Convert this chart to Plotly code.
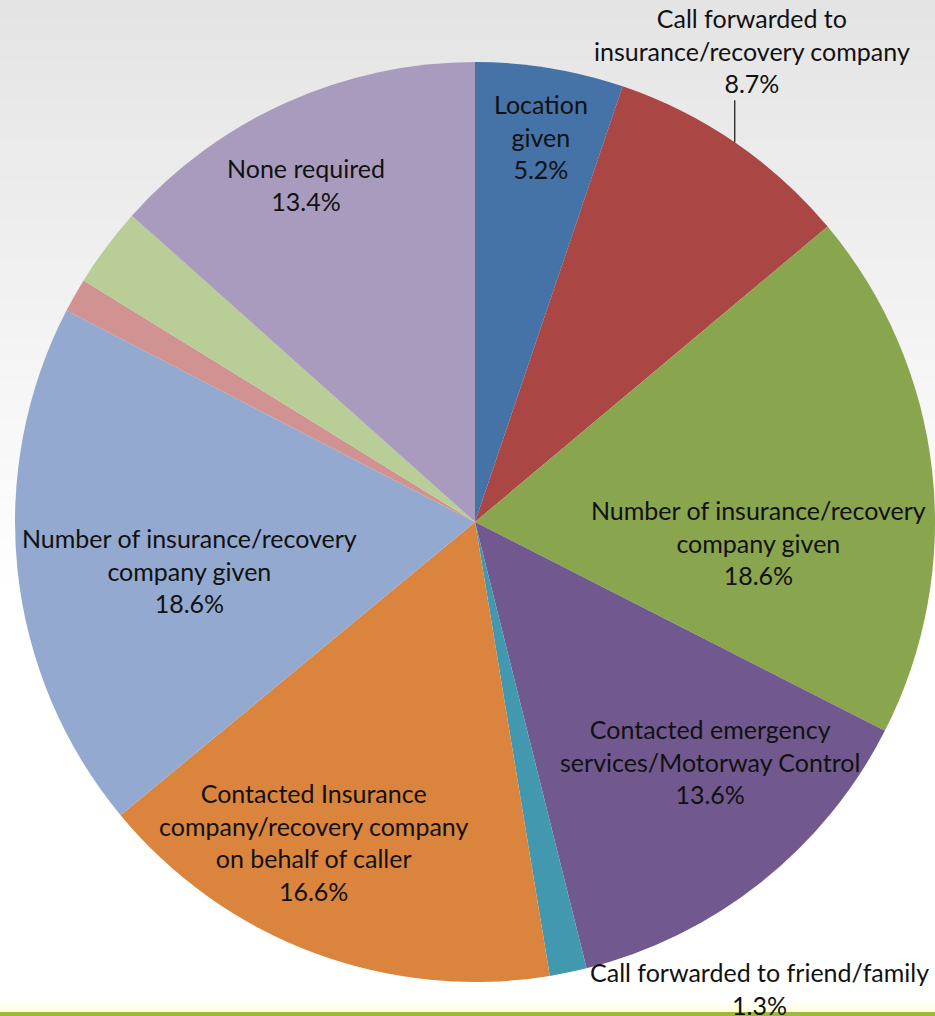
import math
import plotly.graph_objects as go

# ---------------- data ----------------
slice_keys = ["s0", "s1", "s2", "s3", "s4", "s5", "s6", "s7", "s8", "s9"]
categories = [
    "Location given",
    "Call forwarded to insurance/recovery company",
    "Number of insurance/recovery company given",
    "Contacted emergency services/Motorway Control",
    "Call forwarded to friend/family",
    "Contacted Insurance company/recovery company on behalf of caller",
    "Number of insurance/recovery company given",
    "",
    "",
    "None required",
]
label_text = [
    "Location<br>given",
    "Call forwarded to<br>insurance/recovery company",
    "Number of insurance/recovery<br>company given",
    "Contacted emergency<br>services/Motorway Control",
    "Call forwarded to friend/family",
    "Contacted Insurance<br>company/recovery company<br>on behalf of caller",
    "Number of insurance/recovery<br>company given",
    "",
    "",
    "None required",
]
values = [5.2, 8.7, 18.6, 13.6, 1.3, 16.6, 18.6, 1.2, 2.8, 13.4]
colors = ["#4572A7", "#AA4643", "#89A54E", "#71588F", "#4198AF",
          "#DB843D", "#93A9CF", "#D19392", "#B9CD96", "#A99BBD"]

# ---------------- layout / style ----------------
W, H = 935, 1016
PIE_LEFT, PIE_RIGHT, PIE_TOP, PIE_BOTTOM = 15, 935, 62, 982
cx = (PIE_LEFT + PIE_RIGHT) / 2
cy = (PIE_TOP + PIE_BOTTOM) / 2
R = min(PIE_RIGHT - PIE_LEFT, PIE_BOTTOM - PIE_TOP) / 2

FONT = "Lato, 'Open Sans', sans-serif"
FSIZE = 25
TXT = "#111111"

# label placement style per slice: (mode, radial fraction, angle nudge deg)
placement = [
    ("in", 0.85, 0.4),
    ("up", 1.0, 0.0),
    ("in", 0.617, 10.7),
    ("in", 0.73, -6.0),
    ("right", 1.0, 0.0),
    ("in", 0.78, 6.2),
    ("in", 0.63, -3.5),
    (None, 0, 0),
    (None, 0, 0),
    ("in", 0.82, -2.5),
]


def px(x):
    return x / W


def py(y):
    return 1 - y / H


def polar(angle_deg, r):
    a = math.radians(angle_deg)
    return cx + r * math.sin(a), cy - r * math.cos(a)


fig = go.Figure()

# background: soft grey at top fading to white, pale glow + green rule at bottom
shapes = []
n_bands = 30
for i in range(n_bands):
    t = i / (n_bands - 1)
    g = int(round(228 + (255 - 228) * t))
    y0 = i * 600 / n_bands
    y1 = (i + 1) * 600 / n_bands + 1
    shapes.append(dict(type="rect", xref="paper", yref="paper", layer="below",
                       x0=0, x1=1, y0=py(y1), y1=py(y0), line=dict(width=0),
                       fillcolor=f"rgb({g},{g},{g})"))
for i in range(8):
    t = i / 7
    b = int(round(255 - (255 - 218) * t))
    y0 = 1000 + i * 12 / 8
    shapes.append(dict(type="rect", xref="paper", yref="paper", layer="below",
                       x0=0, x1=1, y0=py(y0 + 1.6), y1=py(y0), line=dict(width=0),
                       fillcolor=f"rgb(255,255,{b})"))
shapes.append(dict(type="rect", xref="paper", yref="paper", layer="above",
                   x0=0, x1=1, y0=py(1017), y1=py(1012), line=dict(width=0),
                   fillcolor="#9CB93A"))

fig.add_trace(go.Pie(
    labels=slice_keys,
    values=values,
    hovertext=categories,
    hoverinfo="text+percent",
    sort=False,
    direction="clockwise",
    rotation=0,
    marker=dict(colors=colors, line=dict(width=0)),
    textinfo="none",
    showlegend=False,
    domain=dict(x=[px(PIE_LEFT), px(PIE_RIGHT)], y=[py(PIE_BOTTOM), py(PIE_TOP)]),
))

total = sum(values)
annotations = []
cum = 0.0
for i, v in enumerate(values):
    mid = (cum + v / 2) / total * 360
    cum += v
    mode, rf, nudge = placement[i]
    if mode is None:
        continue
    text = f"{label_text[i]}<br>{v / total * 100:.1f}%"
    if mode == "in":
        x, y = polar(mid + nudge, rf * R)
        annotations.append(dict(x=px(x), y=py(y), xref="paper", yref="paper",
                                text=text, showarrow=False, xanchor="center",
                                yanchor="middle", align="center",
                                font=dict(family=FONT, size=FSIZE, color=TXT)))
    elif mode == "up":
        ex, ey = polar(mid, R)
        top = ey - 42
        shapes.append(dict(type="line", xref="paper", yref="paper", layer="above",
                           x0=px(ex), x1=px(ex), y0=py(ey), y1=py(top),
                           line=dict(color="#111111", width=1.2)))
        annotations.append(dict(x=px(ex + 17), y=py(top), xref="paper", yref="paper",
                                text=text, showarrow=False, xanchor="center",
                                yanchor="bottom", align="center",
                                font=dict(family=FONT, size=FSIZE, color=TXT)))
    elif mode == "right":
        ex, ey = polar(mid, R)
        annotations.append(dict(x=px(ex + 20), y=py(ey - 17), xref="paper", yref="paper",
                                text=text, showarrow=False, xanchor="left",
                                yanchor="top", align="center",
                                font=dict(family=FONT, size=FSIZE, color=TXT)))

fig.update_layout(
    width=W, height=H,
    margin=dict(l=0, r=0, t=0, b=0),
    paper_bgcolor="white",
    plot_bgcolor="white",
    shapes=shapes,
    annotations=annotations,
)

fig.write_html("out.html", config={"displayModeBar": False},
               post_script="document.body.style.margin='0';")
